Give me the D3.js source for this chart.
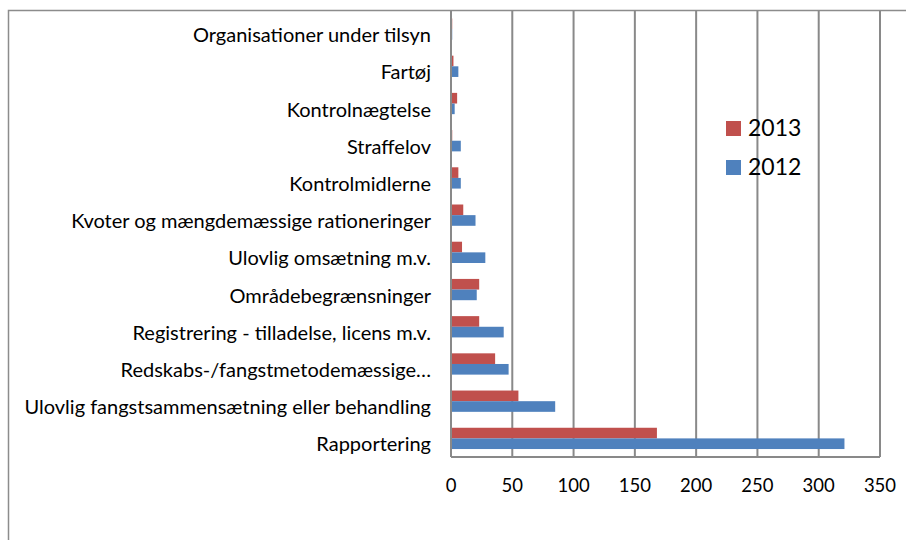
<!DOCTYPE html>
<html>
<head>
<meta charset="utf-8">
<script src="https://cdn.jsdelivr.net/npm/d3@7"></script>
<style>
  body { margin: 0; background: #fff; }
  text { font-family: Lato, "Open Sans", sans-serif; fill: #000; }
</style>
</head>
<body>
<div id="chart"></div>
<script>
// categories, top to bottom as shown
var categories = [
    "Organisationer under tilsyn",
    "Fartøj",
    "Kontrolnægtelse",
    "Straffelov",
    "Kontrolmidlerne",
    "Kvoter og mængdemæssige rationeringer",
    "Ulovlig omsætning m.v.",
    "Områdebegrænsninger",
    "Registrering - tilladelse, licens m.v.",
    "Redskabs-/fangstmetodemæssige…",
    "Ulovlig fangstsammensætning eller behandling",
    "Rapportering"
];
var values2013 = [1, 2, 5, 1, 6, 10, 9, 23, 23, 36, 55, 168];
var values2012 = [1, 6, 3, 8, 8, 20, 28, 21, 43, 47, 85, 321];
var seriesNames = ["2013", "2012"];
var seriesColors = ["#C0504D", "#4F81BD"];
var xTicks = [0, 50, 100, 150, 200, 250, 300, 350];

var width = 906, height = 540;
var plot = {left: 451, right: 880, top: 10.5, bottom: 457};

var svg = d3.select("#chart").append("svg")
    .attr("width", width)
    .attr("height", height);

// chart frame (runs off the right and bottom edge)
svg.append("rect")
    .attr("x", 8.5).attr("y", 10.5)
    .attr("width", 1000).attr("height", 1000)
    .attr("fill", "none")
    .attr("stroke", "#8c8c8c")
    .attr("stroke-width", 1.5);

var x = d3.scaleLinear()
    .domain([0, 350])
    .range([plot.left, plot.right]);

var y = d3.scaleBand()
    .domain(categories)
    .range([plot.top, plot.bottom])
    .paddingInner(0.428)
    .paddingOuter(0.214);

var ySub = d3.scaleBand()
    .domain(seriesNames)
    .range([0, y.bandwidth()]);

// gridlines
svg.append("g")
    .selectAll("line")
    .data(xTicks)
    .join("line")
    .attr("x1", function(d) { return x(d); })
    .attr("x2", function(d) { return x(d); })
    .attr("y1", plot.top)
    .attr("y2", plot.bottom)
    .attr("stroke", "#898989")
    .attr("stroke-width", 2);

// bottom axis line
svg.append("line")
    .attr("x1", plot.left).attr("x2", plot.right)
    .attr("y1", plot.bottom).attr("y2", plot.bottom)
    .attr("stroke", "#898989")
    .attr("stroke-width", 2);

var rows = categories.map(function(c, i) {
    return {cat: c, vals: [values2013[i], values2012[i]]};
});

var groups = svg.append("g")
    .selectAll("g")
    .data(rows)
    .join("g")
    .attr("transform", function(d) { return "translate(0," + y(d.cat) + ")"; });

groups.selectAll("rect")
    .data(function(d) {
        return d.vals.map(function(v, j) { return {name: seriesNames[j], v: v, color: seriesColors[j]}; });
    })
    .join("rect")
    .attr("x", x(0))
    .attr("y", function(d) { return ySub(d.name); })
    .attr("width", function(d) { return x(d.v) - x(0); })
    .attr("height", ySub.bandwidth())
    .attr("fill", function(d) { return d.color; });

// left axis line drawn over bars
svg.append("line")
    .attr("x1", plot.left).attr("x2", plot.left)
    .attr("y1", plot.top).attr("y2", plot.bottom)
    .attr("stroke", "#898989")
    .attr("stroke-width", 2);

// category labels
svg.append("g")
    .selectAll("text")
    .data(categories)
    .join("text")
    .attr("x", 431)
    .attr("y", function(d) { return y(d) + y.bandwidth() / 2 + 13; })
    .attr("text-anchor", "end")
    .style("font-size", "20px")
    .text(function(d) { return d; });

// x tick labels
svg.append("g")
    .selectAll("text")
    .data(xTicks)
    .join("text")
    .attr("x", function(d) { return x(d); })
    .attr("y", 492)
    .attr("text-anchor", "middle")
    .style("font-size", "18.5px")
    .text(function(d) { return d; });

// legend
var legend = svg.append("g")
    .selectAll("g")
    .data(seriesNames)
    .join("g")
    .attr("transform", function(d, i) { return "translate(726," + (121 + i * 39) + ")"; });

legend.append("rect")
    .attr("width", 15).attr("height", 15)
    .attr("fill", function(d, i) { return seriesColors[i]; });

legend.append("text")
    .attr("x", 22)
    .attr("y", 15)
    .style("font-size", "23px")
    .text(function(d) { return d; });
</script>
</body>
</html>
